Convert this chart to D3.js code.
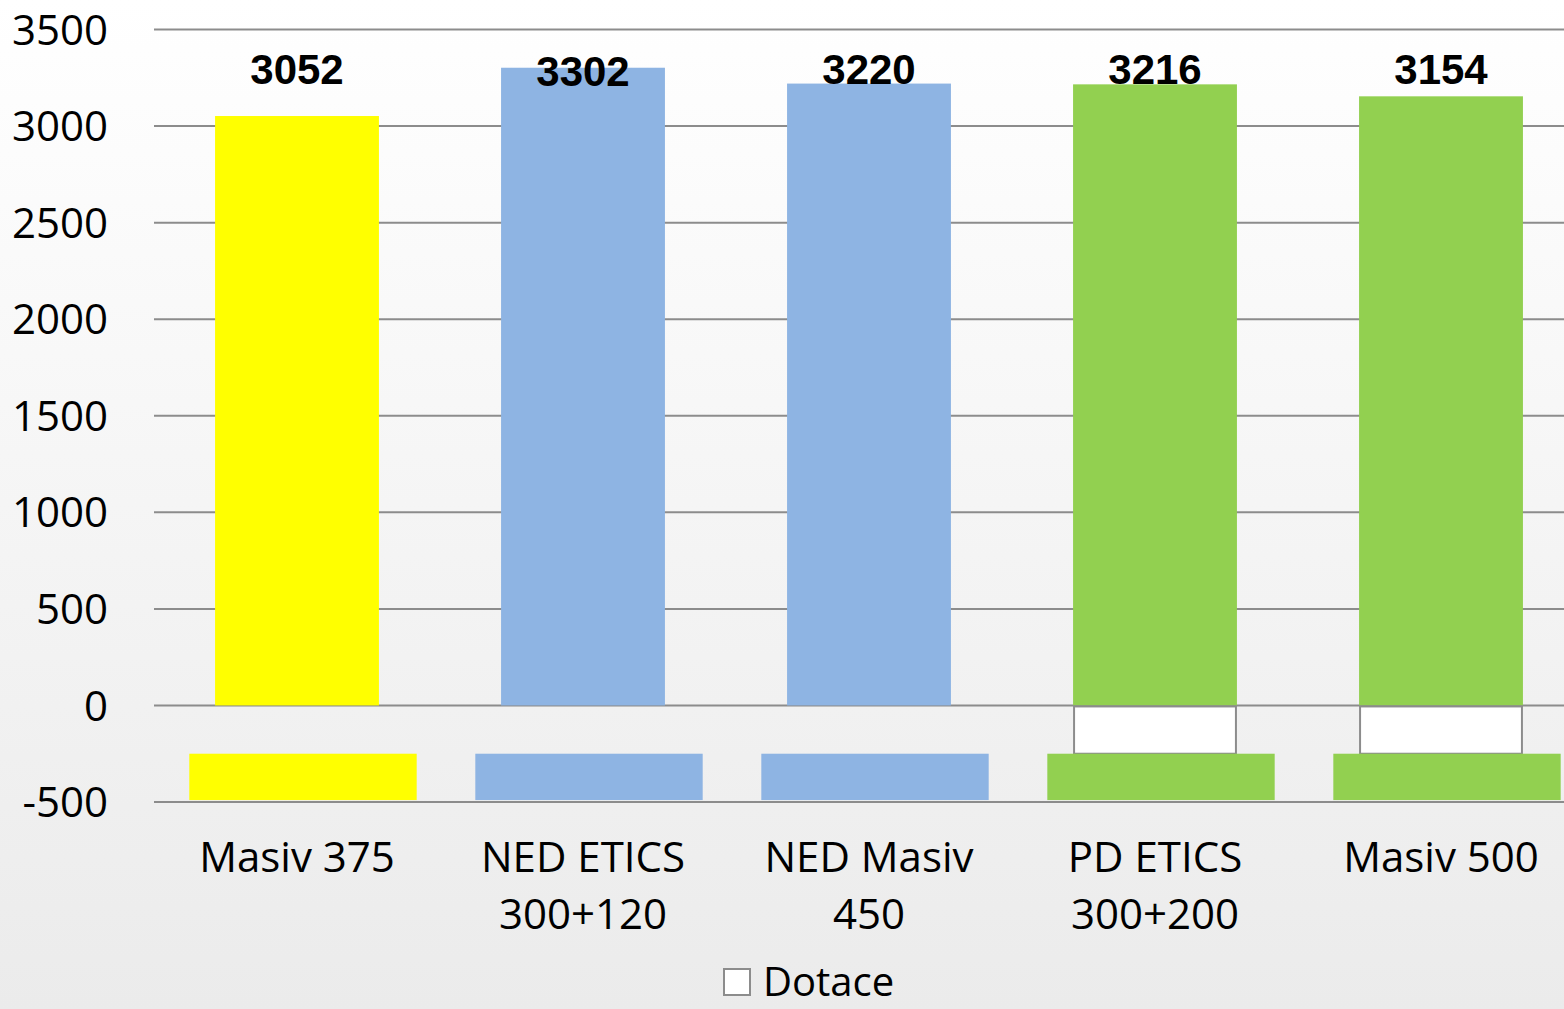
<!DOCTYPE html>
<html><head><meta charset="utf-8">
<script src="https://cdn.jsdelivr.net/npm/d3@7"></script>
<style>html,body{margin:0;padding:0;overflow:hidden;}</style>
</head><body>
<svg id="c" width="1564" height="1009"></svg>
<script>
const categories = [["Masiv 375"],["NED ETICS","300+120"],["NED Masiv","450"],["PD ETICS","300+200"],["Masiv 500"]];
const catKeys = ["Masiv 375","NED ETICS 300+120","NED Masiv 450","PD ETICS 300+200","Masiv 500"];
const values = [3052, 3302, 3220, 3216, 3154];
const dotace = [0, 0, 0, -250, -250];
const stripTop = -250, stripBottom = -490;
const colors = ["#ffff00","#8eb4e3","#8eb4e3","#92d050","#92d050"];
const yTicks = [-500,0,500,1000,1500,2000,2500,3000,3500];
const legendLabel = "Dotace";

const svg = d3.select("#c");
const defs = svg.append("defs");
const g = defs.append("linearGradient").attr("id","bg").attr("x1",0).attr("y1",0).attr("x2",0).attr("y2",1);
g.append("stop").attr("offset","0%").attr("stop-color","#ffffff");
g.append("stop").attr("offset","100%").attr("stop-color","#ebebeb");
svg.append("rect").attr("width",1564).attr("height",1009).attr("fill","url(#bg)");

const y = d3.scaleLinear().domain([-500,3500]).range([802,29.5]);
const x = d3.scaleBand().domain(catKeys).range([154,1584]).paddingInner(0.427).paddingOuter(0.2135);

// gridlines
svg.append("g").selectAll("line").data(yTicks).join("line")
  .attr("x1",154).attr("x2",1584).attr("y1",d=>y(d)).attr("y2",d=>y(d))
  .attr("stroke","#8c8c8c").attr("stroke-width",2);

// y tick labels
svg.append("g").selectAll("text").data(yTicks).join("text")
  .attr("x",108).attr("y",d=>y(d)).attr("dy","0.36em").attr("text-anchor","end")
  .attr("font-family","'Open Sans'").attr("font-size",42).attr("fill","#000").text(d=>d);

// main bars
svg.append("g").selectAll("rect").data(values).join("rect")
  .attr("x",(d,i)=>x(catKeys[i])).attr("width",x.bandwidth())
  .attr("y",d=>y(d)).attr("height",d=>y(0)-y(d)).attr("fill",(d,i)=>colors[i]);

// dotace bars
svg.append("g").selectAll("rect").data(dotace.map((v,i)=>({v,i})).filter(d=>d.v!==0)).join("rect")
  .attr("x",d=>x(catKeys[d.i])+1).attr("width",x.bandwidth()-2)
  .attr("y",y(0)+1).attr("height",d=>y(d.v)-y(0)-1)
  .attr("fill","#ffffff").attr("stroke","#8c8c8c").attr("stroke-width",2);

// bottom colour strips
const stripW = x.step()*0.795;
svg.append("g").selectAll("rect").data(colors).join("rect")
  .attr("x",(d,i)=>x(catKeys[i])+x.bandwidth()/2-stripW/2+6).attr("width",stripW)
  .attr("y",y(stripTop)).attr("height",y(stripBottom)-y(stripTop)).attr("fill",d=>d);

// value labels
svg.append("g").selectAll("text").data(values).join("text")
  .attr("x",(d,i)=>x(catKeys[i])+x.bandwidth()/2).attr("y",(d,i)=>i===1?86:84)
  .attr("text-anchor","middle").attr("font-family","'Liberation Sans', Arial").attr("font-weight","bold")
  .attr("font-size",42).attr("fill","#000").text(d=>d);

// category labels
const cl = svg.append("g").selectAll("text").data(categories).join("text")
  .attr("x",(d,i)=>x(catKeys[i])+x.bandwidth()/2).attr("y",857)
  .attr("text-anchor","middle").attr("font-family","'Open Sans'").attr("font-size",42).attr("fill","#000");
cl.selectAll("tspan").data(d=>d).join("tspan")
  .attr("x",function(){return d3.select(this.parentNode).attr("x");})
  .attr("dy",(d,j)=>j===0?"0.36em":"57px").text(d=>d);

// legend
svg.append("rect").attr("x",724).attr("y",969).attr("width",26).attr("height",26)
  .attr("fill","#fff").attr("stroke","#8c8c8c").attr("stroke-width",2);
svg.append("text").attr("x",763).attr("y",996)
  .attr("font-family","'Open Sans'").attr("font-size",40).attr("fill","#000").text(legendLabel);
</script>
</body></html>
